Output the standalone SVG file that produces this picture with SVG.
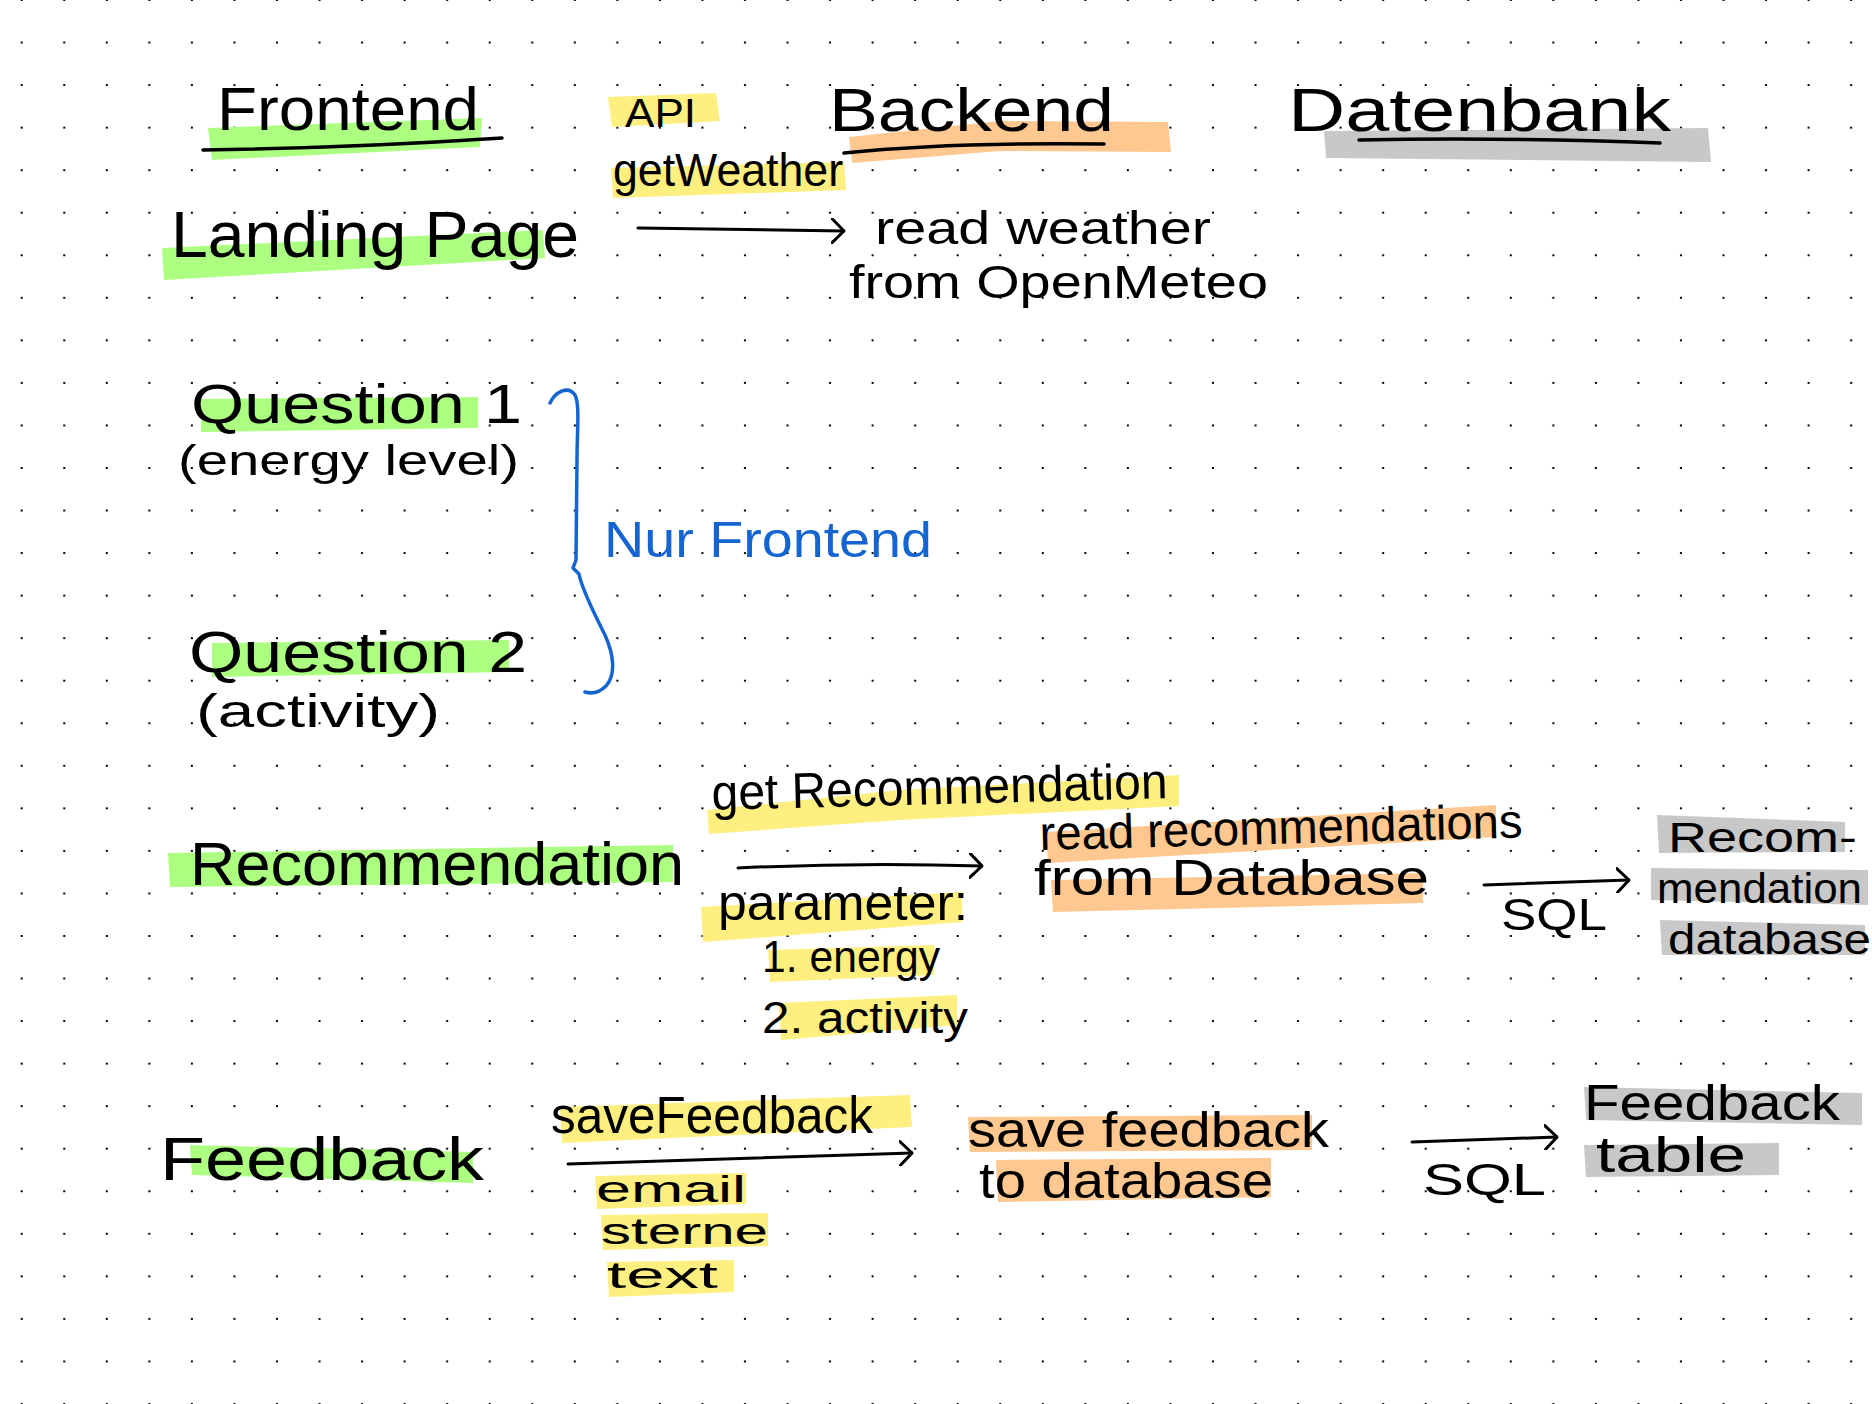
<svg xmlns="http://www.w3.org/2000/svg" width="1872" height="1404" viewBox="0 0 1872 1404">
<defs>
<pattern id="dots" x="0" y="-1" width="42.545" height="42.545" patternUnits="userSpaceOnUse">
<rect x="20.7" y="0" width="2" height="2" fill="#000"/>
</pattern>
<marker id="chev" viewBox="0 0 14 26" refX="13" refY="13" markerWidth="14" markerHeight="26" markerUnits="userSpaceOnUse" orient="auto">
<path d="M1,1 L13,13 L1,25" fill="none" stroke="#000" stroke-width="3" stroke-linecap="round" stroke-linejoin="round"/>
</marker>
<style>
.hg{fill:#adff82}
.hy{fill:#ffee80}
.ho{fill:#ffc890}
.hk{fill:#c8c8c8}
.t{font-family:"Liberation Sans",Arial,sans-serif;fill:#000}
.bl{font-family:"Liberation Sans",Arial,sans-serif;fill:#1464d2}
.ln{stroke:#000;stroke-width:3.5;fill:none;stroke-linecap:round}
.ar{stroke:#000;stroke-width:3;fill:none;stroke-linecap:round;marker-end:url(#chev)}
.br{stroke:#1464d2;stroke-width:3.5;fill:none;stroke-linecap:round;stroke-linejoin:round}
</style>
</defs>
<rect x="0" y="0" width="1872" height="1404" fill="#fff"/>
<rect x="0" y="0" width="1872" height="1404" fill="url(#dots)"/>

<g id="header-frontend">
<polygon class="hg" points="208,128 482,118 480,147 212,160"/>
<text class="t" x="217" y="130" font-size="62" textLength="262" lengthAdjust="spacingAndGlyphs">Frontend</text>
<path class="ln" d="M203,150 Q350,148 502,138"/>
</g>
<g id="header-api">
<polygon class="hy" points="608,97 716,93 720,121 612,127"/>
<text class="t" x="625" y="127" font-size="40" textLength="71" lengthAdjust="spacingAndGlyphs">API</text>
</g>
<g id="header-backend">
<polygon class="ho" points="849,137 1000,121 1168,122 1171,152 1000,151 852,163"/>
<text class="t" x="829" y="131" font-size="62" textLength="285" lengthAdjust="spacingAndGlyphs">Backend</text>
<path class="ln" d="M844,153 Q950,142 1104,144"/>
</g>
<g id="header-datenbank">
<polygon class="hk" points="1324,131 1708,128 1711,162 1326,158"/>
<text class="t" x="1288" y="131" font-size="62" textLength="383" lengthAdjust="spacingAndGlyphs">Datenbank</text>
<path class="ln" d="M1359,140 Q1500,137 1660,143"/>
</g>

<g id="landing-page">
<polygon class="hg" points="162,248 543,230 545,258 164,280"/>
<text class="t" x="171" y="257" font-size="64" textLength="408" lengthAdjust="spacingAndGlyphs">Landing Page</text>
</g>
<g id="api-getweather">
<polygon class="hy" points="611,168 844,162 846,190 613,198"/>
<text class="t" x="613" y="186" font-size="46" textLength="230" lengthAdjust="spacingAndGlyphs">getWeather</text>
</g>
<g id="backend-read-weather">
<text class="t" x="875" y="244" font-size="46" textLength="336" lengthAdjust="spacingAndGlyphs">read weather</text>
<text class="t" x="849" y="298" font-size="46" textLength="419" lengthAdjust="spacingAndGlyphs">from OpenMeteo</text>
</g>

<g id="question-1">
<polygon class="hg" points="201,399 478,397 478,428 201,432"/>
<text class="t" x="191" y="423" font-size="56" textLength="331" lengthAdjust="spacingAndGlyphs">Question 1</text>
<text class="t" x="178" y="475" font-size="42" textLength="341" lengthAdjust="spacingAndGlyphs">(energy level)</text>
</g>
<g id="question-2">
<polygon class="hg" points="212,643 509,640 509,672 212,677"/>
<text class="t" x="189" y="672" font-size="58" textLength="338" lengthAdjust="spacingAndGlyphs">Question 2</text>
<text class="t" x="196" y="727" font-size="46" textLength="244" lengthAdjust="spacingAndGlyphs">(activity)</text>
</g>
<g id="nur-frontend">
<text class="bl" x="604" y="557" font-size="50" textLength="328" lengthAdjust="spacingAndGlyphs">Nur Frontend</text>
</g>

<g id="recommendation">
<polygon class="hg" points="168,853 673,845 673,882 170,887"/>
<text class="t" x="190" y="885" font-size="62" textLength="494" lengthAdjust="spacingAndGlyphs">Recommendation</text>
</g>
<g id="api-getrecommendation">
<polygon class="hy" points="707,810 900,790 1179,775 1179,806 900,820 709,834"/>
<text class="t" x="712" y="810" font-size="50" textLength="456" lengthAdjust="spacingAndGlyphs" transform="rotate(-1.5 712 810)">get Recommendation</text>
<polygon class="hy" points="701,907 962,892 962,922 703,942"/>
<text class="t" x="718" y="920" font-size="50" textLength="250" lengthAdjust="spacingAndGlyphs">parameter:</text>
<polygon class="hy" points="768,950 934,945 934,975 770,982"/>
<text class="t" x="762" y="972" font-size="44" textLength="178" lengthAdjust="spacingAndGlyphs">1. energy</text>
<polygon class="hy" points="779,1003 957,995 957,1025 781,1040"/>
<text class="t" x="762" y="1033" font-size="44" textLength="206" lengthAdjust="spacingAndGlyphs">2. activity</text>
</g>
<g id="backend-read-recommendations">
<polygon class="ho" points="1046,832 1496,805 1496,837 1048,863"/>
<text class="t" x="1040" y="850" font-size="48" textLength="483" lengthAdjust="spacingAndGlyphs" transform="rotate(-1.5 1040 850)">read recommendations</text>
<polygon class="ho" points="1051,880 1423,873 1423,903 1053,912"/>
<text class="t" x="1034" y="895" font-size="50" textLength="395" lengthAdjust="spacingAndGlyphs">from Database</text>
</g>
<g id="db-recommendation">
<polygon class="hk" points="1657,815 1845,822 1845,852 1659,853"/>
<text class="t" x="1668" y="852" font-size="42" textLength="189" lengthAdjust="spacingAndGlyphs">Recom-</text>
<polygon class="hk" points="1651,868 1868,870 1868,905 1651,900"/>
<text class="t" x="1657" y="903" font-size="42" textLength="205" lengthAdjust="spacingAndGlyphs">mendation</text>
<polygon class="hk" points="1660,920 1865,925 1865,955 1662,955"/>
<text class="t" x="1668" y="954" font-size="42" textLength="203" lengthAdjust="spacingAndGlyphs">database</text>
</g>

<g id="feedback">
<polygon class="hg" points="190,1145 473,1152 473,1183 192,1175"/>
<text class="t" x="160" y="1180" font-size="62" textLength="324" lengthAdjust="spacingAndGlyphs">Feedback</text>
</g>
<g id="api-savefeedback">
<polygon class="hy" points="560,1107 910,1095 912,1127 562,1143"/>
<text class="t" x="551" y="1133" font-size="52" textLength="322" lengthAdjust="spacingAndGlyphs">saveFeedback</text>
<polygon class="hy" points="595,1176 746,1173 746,1204 597,1209"/>
<text class="t" x="596" y="1202" font-size="36" textLength="150" lengthAdjust="spacingAndGlyphs">email</text>
<polygon class="hy" points="601,1215 768,1213 768,1246 603,1250"/>
<text class="t" x="601" y="1244" font-size="36" textLength="167" lengthAdjust="spacingAndGlyphs">sterne</text>
<polygon class="hy" points="607,1262 734,1260 734,1292 609,1297"/>
<text class="t" x="607" y="1288" font-size="36" textLength="111" lengthAdjust="spacingAndGlyphs">text</text>
</g>
<g id="backend-save-feedback">
<polygon class="ho" points="968,1117 1312,1115 1312,1150 970,1152"/>
<text class="t" x="968" y="1147" font-size="50" textLength="361" lengthAdjust="spacingAndGlyphs">save feedback</text>
<polygon class="ho" points="996,1160 1271,1158 1271,1197 998,1202"/>
<text class="t" x="979" y="1198" font-size="50" textLength="294" lengthAdjust="spacingAndGlyphs">to database</text>
</g>
<g id="db-feedback">
<polygon class="hk" points="1584,1087 1862,1093 1862,1125 1586,1120"/>
<text class="t" x="1584" y="1120" font-size="50" textLength="256" lengthAdjust="spacingAndGlyphs">Feedback</text>
<polygon class="hk" points="1584,1145 1779,1143 1779,1175 1586,1177"/>
<text class="t" x="1596" y="1172" font-size="50" textLength="150" lengthAdjust="spacingAndGlyphs">table</text>
</g>

<g id="connectors">
<path class="ar" d="M638,228 L844,231"/>
<path class="ar" d="M738,868 Q860,862 982,866"/>
<path class="ar" d="M1484,885 L1629,880"/>
<path class="ar" d="M568,1164 L912,1153"/>
<path class="ar" d="M1412,1142 L1557,1137"/>
<path class="br" d="M550,403 C555,392 568,385 575,395 C580,405 577,430 577,460 L576,560 L573,568 L579,574 C582,590 595,615 605,635 C614,655 616,675 606,686 C600,692 592,694 585,692"/>
<text class="t" x="1501" y="930" font-size="44" textLength="106" lengthAdjust="spacingAndGlyphs">SQL</text>
<text class="t" x="1423" y="1195" font-size="44" textLength="123" lengthAdjust="spacingAndGlyphs">SQL</text>
</g>
</svg>
